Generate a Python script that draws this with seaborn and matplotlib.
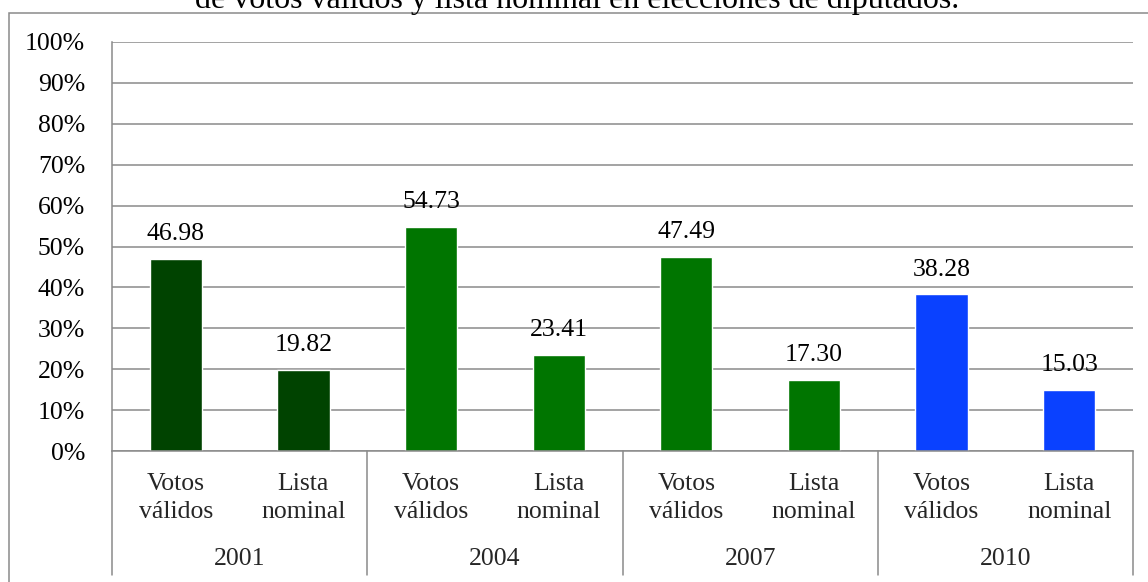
import matplotlib
matplotlib.use("Agg")
import matplotlib.pyplot as plt
import seaborn as sns
import pandas as pd
from matplotlib.patches import Rectangle
from matplotlib.ticker import FuncFormatter

# Election years and the two measures shown for each one
years = ["2001", "2004", "2007", "2010"]
measures = ["Votos\nválidos", "Lista\nnominal"]
votos_validos = [46.98, 54.73, 47.49, 38.28]
lista_nominal = [19.82, 23.41, 17.30, 15.03]
year_colors = ["#004300", "#007500", "#007500", "#0A41FF"]
title = "de votos válidos y lista nominal en elecciones de diputados."

W, H = 1148, 582
GRAY = "#8a8a8a"
FS = 18.5
PX = 0.72  # points per pixel at 100 dpi

sns.set_theme(style="white")
plt.rcParams["font.family"] = ["Liberation Serif", "DejaVu Serif"]

# Long-form table: one row per bar
bar_ids, values, palette = [], [], {}
for i, yr in enumerate(years):
    for m, series in zip(measures, (votos_validos, lista_nominal)):
        key = f"{yr} {m}"
        bar_ids.append(key)
        values.append(series[i])
        palette[key] = year_colors[i]
df = pd.DataFrame({"bar": bar_ids, "value": values})

fig = plt.figure(figsize=(W / 100, H / 100), dpi=100)
ax = fig.add_axes([112 / W, 1 - 451 / H, (1133 - 112) / W, (451 - 42) / H])

sns.barplot(data=df, x="bar", y="value", hue="bar", order=bar_ids,
            palette=palette, width=0.41, saturation=1, legend=False, ax=ax)

for cont in ax.containers:
    ax.bar_label(cont, fmt="%.2f", padding=10, fontsize=FS, color="black")

ax.set_xlim(-0.5, len(bar_ids) - 0.5)
ax.set_ylim(0, 100)
ax.set_yticks(range(0, 101, 10))
ax.yaxis.set_major_formatter(FuncFormatter(lambda v, _: f"{v:.0f}%"))
ax.tick_params(axis="y", length=0, pad=27 * PX, labelsize=FS,
               labelcolor="black")
ax.set_xticks([])
ax.set_xlabel("")
ax.set_ylabel("")
ax.yaxis.grid(True, color=GRAY, linewidth=1.1)
ax.set_axisbelow(True)
for side in ("top", "right"):
    ax.spines[side].set_visible(False)
for side in ("left", "bottom"):
    ax.spines[side].set_color(GRAY)
    ax.spines[side].set_linewidth(1.1)

# Two-level category axis: measure names, then year, with group dividers
trans = ax.get_xaxis_transform()
for j, key in enumerate(bar_ids):
    ax.annotate(measures[j % 2], xy=(j, 0), xycoords=trans,
                xytext=(0, -47 * PX), textcoords="offset points",
                ha="center", va="center", fontsize=FS, linespacing=1.3,
                annotation_clip=False)
for g, yr in enumerate(years):
    ax.annotate(yr, xy=(2 * g + 0.5, 0), xycoords=trans,
                xytext=(0, -108 * PX), textcoords="offset points",
                ha="center", va="center", fontsize=FS, annotation_clip=False)
div_bottom = -124 / (451 - 42)
for g in range(len(years) + 1):
    xpos = 2 * g - 0.5
    ax.plot([xpos, xpos], [0, div_bottom], transform=trans, color=GRAY,
            linewidth=1.1, clip_on=False)

# Outer chart border and the title line above it
fig.add_artist(Rectangle((9 / W, -0.1), 1.2, (1 - 13 / H) + 0.1,
                         transform=fig.transFigure, fill=False,
                         edgecolor=GRAY, linewidth=1.1))
fig.text(577 / W, 1 - 8 / H, title, ha="center", va="baseline",
         fontsize=23, color="black")

fig.savefig("out.png", dpi=100)
